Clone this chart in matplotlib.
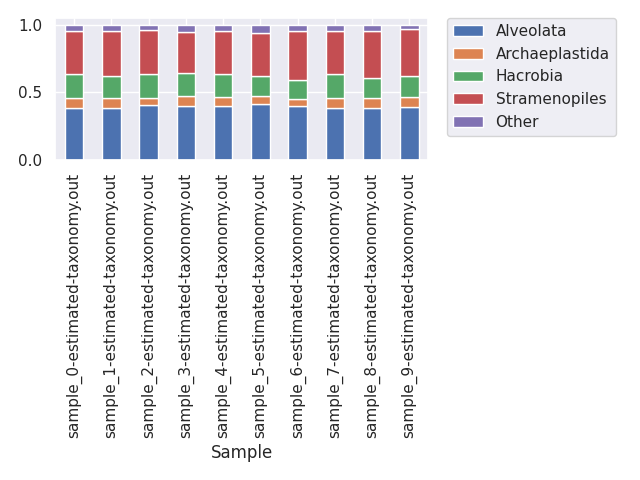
import pandas as pd
import matplotlib
matplotlib.use("Agg")
import matplotlib.pyplot as plt
import seaborn as sns

sns.set_theme()

samples = [f"sample_{i}-estimated-taxonomy.out" for i in range(10)]
alveolata = [0.383, 0.388, 0.407, 0.402, 0.402, 0.417, 0.402, 0.388, 0.388, 0.395]
archaeplastida = [0.078, 0.073, 0.054, 0.074, 0.066, 0.059, 0.047, 0.073, 0.068, 0.073]
hacrobia = [0.176, 0.161, 0.176, 0.170, 0.169, 0.146, 0.144, 0.176, 0.151, 0.154]
stramenopiles = [0.314, 0.329, 0.322, 0.298, 0.314, 0.317, 0.358, 0.314, 0.344, 0.346]
other = [0.049, 0.049, 0.041, 0.056, 0.049, 0.061, 0.049, 0.049, 0.049, 0.032]

df = pd.DataFrame({
    "Sample": samples,
    "Alveolata": alveolata,
    "Archaeplastida": archaeplastida,
    "Hacrobia": hacrobia,
    "Stramenopiles": stramenopiles,
    "Other": other,
}).set_index("Sample")

fig, ax = plt.subplots(figsize=(6.4, 4.8))
df.plot(kind="bar", stacked=True, ax=ax)
ax.legend(bbox_to_anchor=(1.05, 1), loc=2, borderaxespad=0.0)
fig.tight_layout()
fig.savefig("out.png", dpi=100)
